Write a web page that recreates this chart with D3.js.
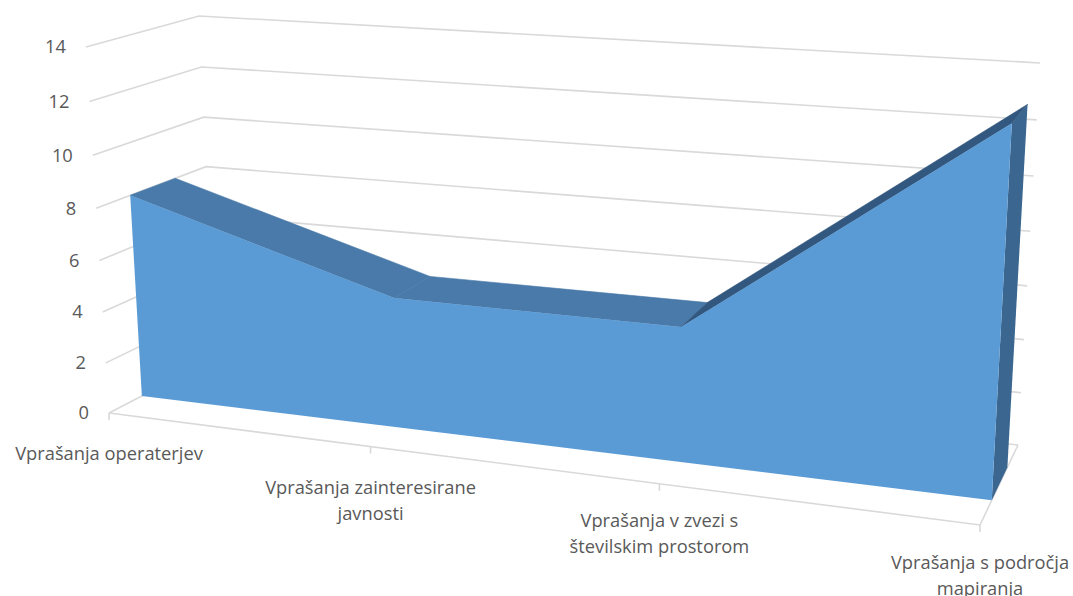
<!DOCTYPE html>
<html>
<head>
<meta charset="utf-8">
<script src="https://cdnjs.cloudflare.com/ajax/libs/d3/7.8.5/d3.min.js"></script>
<style>
  html, body { margin: 0; padding: 0; background: #fff; }
  text { font-family: "Open Sans", sans-serif; font-size: 18.3px; fill: #595959; }
</style>
</head>
<body>
<script>
var categories = ['Vprašanja operaterjev', 'Vprašanja zainteresirane javnosti', 'Vprašanja v zvezi s številskim prostorom', 'Vprašanja s področja mapiranja'];
var categoryLines = [['Vprašanja operaterjev'], ['Vprašanja zainteresirane', 'javnosti'], ['Vprašanja v zvezi s', 'številskim prostorom'], ['Vprašanja s področja', 'mapiranja']];
var values = [8, 5, 5, 13];
var valueTicks = [0, 2, 4, 6, 8, 10, 12, 14];

var width = 1073, height = 596;

// corners of the 3d box as they land on the screen
var box = {
  frontBottomLeft: [109, 413], frontBottomRight: [980, 525],
  backBottomLeft: [215, 358], backBottomRight: [1018, 445],
  frontTopLeft: [86, 47], frontTopRight: [1001.5, 106],
  backTopLeft: [199, 16], backTopRight: [1040, 63]
};
var perspX = 1.165, perspY = 1.05;
var seriesFront = 0.31, seriesBack = 0.72; // depth of the area slab inside the box
var labelDrop = [47, 47, 43, 44]; // category label baseline below its tick

var x = d3.scalePoint().domain(categories).range([0, 1]);
var y = d3.scaleLinear().domain([0, 14]).range([0, 1]);

function warp(t, c) { return t / (t + c * (1 - t)); }
function mix(a, b, t) { return [a[0] + (b[0] - a[0]) * t, a[1] + (b[1] - a[1]) * t]; }

// category position, value, depth -> screen
function project(u, w, d) {
  var a = warp(u, perspX), b = warp(w, perspY);
  var front = mix(mix(box.frontBottomLeft, box.frontBottomRight, a), mix(box.frontTopLeft, box.frontTopRight, a), b);
  var back = mix(mix(box.backBottomLeft, box.backBottomRight, a), mix(box.backTopLeft, box.backTopRight, a), b);
  return mix(front, back, d);
}

var svg = d3.select('body').append('svg')
  .attr('width', width)
  .attr('height', height)
  .style('display', 'block');

var line = d3.line();
var polygon = function(pts) { return line(pts) + 'Z'; };

function gridLine(pts) {
  svg.append('path').attr('d', line(pts))
    .attr('fill', 'none')
    .attr('stroke', '#d9d9d9')
    .attr('stroke-width', 1.6);
}

// walls
valueTicks.forEach(function(v) {
  gridLine([project(0, y(v), 0), project(0, y(v), 1), project(1, y(v), 1)]);
});

// floor
gridLine([project(0, 0, 0), project(1, 0, 0), project(1, 0, 1)]);

categories.forEach(function(c) {
  var p = project(x(c), 0, 0);
  gridLine([p, [p[0], p[1] + 7]]);
});

// area slab
var last = categories.length - 1;
var frontPts = categories.map(function(c, i) { return project(x(c), y(values[i]), seriesFront); });
var backPts = categories.map(function(c, i) { return project(x(c), y(values[i]), seriesBack); });

svg.append('path')
  .attr('d', polygon([backPts[last], project(1, 0, seriesBack), project(1, 0, seriesFront), frontPts[last]]))
  .attr('fill', '#3a668f');

var topColors = ['#4a7aa9', '#4a7aa9', '#33587f'];
svg.selectAll('path.top')
  .data(d3.pairs(d3.range(categories.length)))
  .enter().append('path')
  .attr('class', 'top')
  .attr('d', function(d) { return polygon([frontPts[d[0]], backPts[d[0]], backPts[d[1]], frontPts[d[1]]]); })
  .attr('fill', function(d, i) { return topColors[i]; })
  .attr('stroke', function(d, i) { return topColors[i]; })
  .attr('stroke-width', 0.6)
  .attr('stroke-linejoin', 'round');

svg.append('path')
  .attr('d', polygon(frontPts.concat([project(1, 0, seriesFront), project(0, 0, seriesFront)])))
  .attr('fill', '#5b9bd5');

// value labels
svg.selectAll('text.value')
  .data(valueTicks)
  .enter().append('text')
  .attr('class', 'value')
  .attr('x', function(d) { return project(0, y(d), 0)[0] - 20; })
  .attr('y', function(d) { return project(0, y(d), 0)[1]; })
  .attr('dy', '0.35em')
  .attr('text-anchor', 'end')
  .text(function(d) { return d; });

// category labels
var labels = svg.selectAll('text.category')
  .data(categories)
  .enter().append('text')
  .attr('class', 'category')
  .attr('text-anchor', 'middle')
  .attr('transform', function(c, i) {
    var p = project(x(c), 0, 0);
    return 'translate(' + p[0] + ',' + (p[1] + labelDrop[i]) + ')';
  });

labels.selectAll('tspan')
  .data(function(c, i) { return categoryLines[i]; })
  .enter().append('tspan')
  .attr('x', 0)
  .attr('y', function(d, i) { return i * 26; })
  .text(function(d) { return d; });
</script>
</body>
</html>
